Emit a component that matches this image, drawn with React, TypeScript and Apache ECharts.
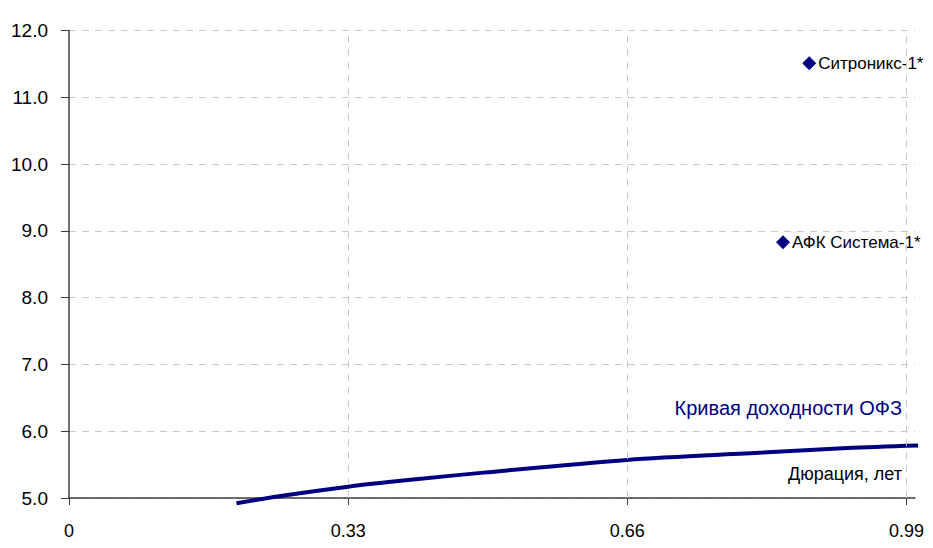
import React, { useEffect, useRef } from "react";
import * as echarts from "echarts";

const curveX = [0.198, 0.25, 0.33, 0.41, 0.49, 0.66, 0.82, 0.92, 1.01];
const curveY = [4.92, 5.03, 5.17, 5.28, 5.38, 5.57, 5.68, 5.75, 5.79];

const bondNames = ["Ситроникс-1*", "АФК Система-1*"];
const bondX = [0.875, 0.844];
const bondY = [11.51, 8.83];

const xTicks = [0, 0.33, 0.66, 0.99];
const curveTitle = "Кривая доходности ОФЗ";
const xName = "Дюрация, лет";

const FONT = "'Liberation Sans', Arial, sans-serif";
const GRID = { color: "#c8c8c8", type: [7, 6] as number[], width: 1 };

export default function App() {
  const ref = useRef<HTMLDivElement>(null);
  useEffect(() => {
    if (!ref.current) return;
    const chart = echarts.init(ref.current, undefined, { renderer: "svg" });
    chart.setOption({
      animation: false,
      backgroundColor: "#ffffff",
      textStyle: { fontFamily: FONT },
      grid: { left: 57, right: 18, top: 22.5, bottom: 38, containLabel: false },
      xAxis: {
        type: "value",
        min: 0,
        max: 1.0,
        axisLine: { onZero: false, lineStyle: { color: "#404040", width: 1.5 } },
        axisTick: { show: true, length: 7, customValues: xTicks, lineStyle: { color: "#404040" } },
        axisLabel: {
          color: "#000",
          fontSize: 18,
          fontFamily: FONT,
          margin: 24,
          customValues: xTicks,
          formatter: (v: number) => String(v),
        },
        splitLine: { show: false },
      },
      yAxis: {
        type: "value",
        min: 5,
        max: 12,
        interval: 1,
        axisLine: { show: true, lineStyle: { color: "#404040", width: 1.5 } },
        axisTick: { show: true, length: 8, lineStyle: { color: "#404040" } },
        axisLabel: {
          color: "#000",
          fontSize: 19,
          fontFamily: FONT,
          margin: 21,
          formatter: (v: number) => v.toFixed(1),
        },
        splitLine: { show: true, lineStyle: GRID },
      },
      series: [
        {
          type: "line",
          data: curveX.map((x, i) => [x, curveY[i]]),
          smooth: 0.3,
          showSymbol: false,
          clip: false,
          lineStyle: { color: "#000080", width: 4 },
          z: 3,
          markLine: {
            silent: true,
            symbol: ["none", "none"],
            label: { show: false },
            lineStyle: GRID,
            data: xTicks.slice(1).map((v) => ({ xAxis: v })),
          },
        },
        {
          type: "scatter",
          data: bondX.map((x, i) => ({ value: [x, bondY[i]], name: bondNames[i] })),
          symbol: "diamond",
          symbolSize: 14,
          itemStyle: { color: "#000080", opacity: 1 },
          label: {
            show: true,
            position: "right",
            distance: 2,
            formatter: (p: any) => p.name,
            color: "#000",
            fontSize: 17,
            fontFamily: FONT,
          },
          z: 4,
        },
      ],
      graphic: [
        {
          type: "text",
          right: 31,
          top: 390,
          style: { text: curveTitle, fill: "#000080", font: `20px ${FONT}` },
        },
        {
          type: "text",
          right: 31,
          top: 457,
          style: { text: xName, fill: "#000", font: `18px ${FONT}` },
        },
      ],
    });
    return () => chart.dispose();
  }, []);
  return <div ref={ref} style={{ width: 925, height: 532 }} />;
}
